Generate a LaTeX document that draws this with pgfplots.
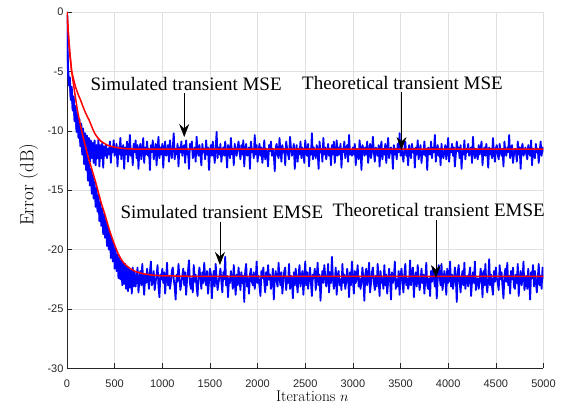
\documentclass[border=0pt]{standalone}
\usepackage{fontspec}
\usepackage{pgfplots}
\pgfplotsset{compat=1.18}
\usetikzlibrary{arrows.meta}
\newfontfamily\annfont{Liberation Serif}
\newfontfamily\tickfont{Liberation Sans}
\definecolor{gridc}{gray}{0.88}
\definecolor{axc}{gray}{0.15}
\begin{document}
\begin{tikzpicture}
\begin{axis}[
  scale only axis, width=476.5pt, height=356.5pt,
  xmin=0, xmax=5000, ymin=-30, ymax=0,
  xtick={0,500,...,5000}, ytick={-30,-25,...,0},
  axis x line*=bottom, axis y line*=left,
  axis line style={axc, line width=0.6pt},
  tick align=inside, major tick length=5pt, tick style={axc, line width=0.6pt},
  grid=major, major grid style={gridc, line width=0.6pt},
  scaled ticks=false,
  /pgf/number format/1000 sep={},
  /pgf/number format/assume math mode=true,
  ticklabel style={font=\tickfont\fontsize{11}{12}\selectfont, text=axc},
  xticklabel style={anchor=base, yshift=-18.8pt},
  xlabel={Iterations $n$}, ylabel={Error (dB)},
  xlabel style={font=\fontsize{15.5}{18}\selectfont, at={(axis description cs:0.515,-0.0916)}, anchor=base},
  ylabel style={font=\fontsize{19}{22}\selectfont, at={(axis description cs:-0.0804,0.515)}, anchor=center},
]
\coordinate (sw) at (rel axis cs:0,0);
% simulated MSE
\addplot[blue, line width=1.8pt, line join=round] coordinates {
(1,-0.2)(5,-3.1)(10,-5.0)(20,-6.2)(30,-5.9)(40,-7.4)(50,-6.6)(60,-8.3)(70,-7.3)(80,-9.1)(90,-7.9)(100,-9.9)(110,-8.6)(120,-10.2)(130,-9.0)(140,-11.0)(150,-9.4)(160,-11.4)(170,-9.8)(180,-11.7)(190,-10.2)(200,-12.1)(210,-10.4)(220,-12.0)(230,-10.6)(240,-12.6)(250,-10.8)(260,-12.3)(270,-11.0)(280,-12.7)(290,-10.8)(300,-12.9)(310,-11.2)(320,-12.3)(330,-10.7)(340,-13.0)(350,-11.2)(360,-12.3)(370,-11.0)(380,-13.1)(390,-11.3)(400,-12.1)
(410,-11.2)(420,-12.3)(430,-11.5)(440,-12.0)(450,-10.9)(460,-12.7)(470,-11.4)(480,-11.8)(490,-10.8)(500,-12.1)
(510,-11.7)(520,-11.1)(530,-13.0)(540,-11.4)(550,-12.0)(560,-10.6)(570,-12.4)(580,-11.5)(590,-11.2)(600,-13.2)
(610,-11.4)(620,-12.0)(630,-10.9)(640,-12.6)(650,-11.7)(660,-10.35)(670,-12.1)(680,-11.5)(690,-12.9)(700,-11.1)
(710,-11.8)(720,-10.8)(730,-12.3)(740,-11.2)(750,-13.2)(760,-11.5)(770,-11.1)(780,-12.4)(790,-11.7)(800,-10.6)
(810,-12.7)(820,-11.4)(830,-12.0)(840,-10.9)(850,-12.1)(860,-11.5)(870,-13.3)(880,-11.2)(890,-11.8)(900,-10.8)
(910,-12.4)(920,-11.7)(930,-11.1)(940,-12.9)(950,-11.5)(960,-10.5)(970,-12.3)(980,-11.4)(990,-12.0)(1000,-11.1)
(1010,-13.1)(1020,-11.5)(1030,-10.9)(1040,-12.1)(1050,-11.8)(1060,-11.2)(1070,-12.6)(1080,-10.8)(1090,-11.7)(1100,-12.3)
(1110,-11.4)(1120,-10.2)(1130,-12.4)(1140,-11.5)(1150,-12.0)(1160,-11.1)(1170,-13.0)(1180,-11.4)(1190,-11.8)(1200,-10.9)
(1210,-12.1)(1220,-11.5)(1230,-11.2)(1240,-12.7)(1250,-10.8)(1260,-12.0)(1270,-11.7)(1280,-13.2)(1290,-11.1)(1300,-11.5)
(1310,-10.9)(1320,-12.3)(1330,-11.8)(1340,-11.4)(1350,-12.6)(1360,-10.5)(1370,-11.7)(1380,-12.1)(1390,-11.2)(1400,-12.0)
(1410,-12.9)(1420,-11.1)(1430,-11.8)(1440,-11.5)(1450,-12.4)(1460,-10.8)(1470,-12.0)(1480,-11.4)(1490,-13.3)(1500,-11.7)
(1510,-11.2)(1520,-12.1)(1530,-10.9)(1540,-11.8)(1550,-12.7)(1560,-11.5)(1570,-10.1)(1580,-12.3)(1590,-11.4)(1600,-12.0)
(1610,-11.1)(1620,-12.6)(1630,-11.7)(1640,-11.4)(1650,-12.1)(1660,-10.9)(1670,-11.8)(1680,-13.1)(1690,-11.2)(1700,-11.5)
(1710,-12.3)(1720,-10.6)(1730,-12.0)(1740,-11.5)(1750,-12.9)(1760,-11.1)(1770,-11.7)(1780,-12.1)(1790,-11.4)(1800,-10.9)
(1810,-11.8)(1820,-12.4)(1830,-11.2)(1840,-12.0)(1850,-10.8)(1860,-13.0)(1870,-11.5)(1880,-11.1)(1890,-12.1)(1900,-11.7)
(1910,-11.4)(1920,-13.2)(1930,-10.9)(1940,-11.8)(1950,-11.5)(1960,-12.3)(1970,-10.35)(1980,-12.0)(1990,-11.2)(2000,-12.6)
(2010,-11.7)(2020,-11.1)(2030,-12.1)(2040,-11.4)(2050,-12.7)(2060,-11.8)(2070,-10.8)(2080,-12.4)(2090,-11.5)(2100,-12.0)
(2110,-13.0)(2120,-11.2)(2130,-11.7)(2140,-10.9)(2150,-12.1)(2160,-11.5)(2170,-12.0)(2180,-13.4)(2190,-11.4)(2200,-11.1)
(2210,-12.0)(2220,-12.3)(2230,-10.6)(2240,-11.7)(2250,-12.6)(2260,-11.2)(2270,-11.8)(2280,-11.5)(2290,-12.9)(2300,-10.9)
(2310,-11.5)(2320,-12.0)(2330,-12.4)(2340,-10.5)(2350,-11.4)(2360,-12.1)(2370,-11.7)(2380,-11.1)(2390,-13.2)(2400,-11.8)
(2410,-11.2)(2420,-12.6)(2430,-11.5)(2440,-12.0)(2450,-10.9)(2460,-12.3)(2470,-11.4)(2480,-11.8)(2490,-12.7)(2500,-10.8)
(2510,-11.7)(2520,-12.1)(2530,-11.1)(2540,-13.0)(2550,-11.5)(2560,-12.0)(2570,-10.2)(2580,-12.4)(2590,-11.4)(2600,-11.8)
(2610,-12.3)(2620,-11.2)(2630,-11.7)(2640,-13.2)(2650,-10.9)(2660,-11.8)(2670,-11.5)(2680,-12.6)(2690,-10.6)(2700,-12.0)
(2710,-11.4)(2720,-12.4)(2730,-11.8)(2740,-11.1)(2750,-12.1)(2760,-11.5)(2770,-12.9)(2780,-11.2)(2790,-12.0)(2800,-10.9)
(2810,-12.7)(2820,-11.7)(2830,-10.8)(2840,-12.1)(2850,-11.4)(2860,-12.0)(2870,-11.1)(2880,-13.1)(2890,-11.5)(2900,-11.8)
(2910,-10.9)(2920,-12.3)(2930,-11.5)(2940,-11.2)(2950,-12.6)(2960,-10.35)(2970,-12.0)(2980,-11.7)(2990,-12.1)(3000,-11.4)
(3010,-12.0)(3020,-11.1)(3030,-12.9)(3040,-11.5)(3050,-11.8)(3060,-12.4)(3070,-10.8)(3080,-11.7)(3090,-13.3)(3100,-11.2)
(3110,-11.5)(3120,-12.1)(3130,-11.4)(3140,-12.0)(3150,-10.9)(3160,-12.7)(3170,-11.8)(3180,-11.1)(3190,-12.3)(3200,-11.7)
(3210,-10.5)(3220,-11.8)(3230,-12.6)(3240,-11.4)(3250,-11.7)(3260,-12.1)(3270,-11.2)(3280,-13.0)(3290,-11.5)(3300,-10.9)
(3310,-12.4)(3320,-11.5)(3330,-12.0)(3340,-11.1)(3350,-12.7)(3360,-11.7)(3370,-10.6)(3380,-12.3)(3390,-11.8)(3400,-11.4)
(3410,-11.7)(3420,-13.2)(3430,-11.2)(3440,-12.0)(3450,-11.5)(3460,-12.4)(3470,-11.1)(3480,-11.8)(3490,-10.2)(3500,-12.1)
(3510,-11.4)(3520,-12.0)(3530,-12.6)(3540,-11.5)(3550,-10.9)(3560,-12.1)(3570,-11.7)(3580,-12.9)(3590,-11.2)(3600,-11.8)
(3610,-12.3)(3620,-11.1)(3630,-11.8)(3640,-11.5)(3650,-13.1)(3660,-11.4)(3670,-12.0)(3680,-10.8)(3690,-12.4)(3700,-11.7)
(3710,-11.2)(3720,-12.7)(3730,-11.7)(3740,-12.0)(3750,-10.9)(3760,-12.1)(3770,-11.5)(3780,-13.3)(3790,-11.4)(3800,-11.8)
(3810,-12.0)(3820,-10.9)(3830,-12.3)(3840,-11.4)(3850,-11.8)(3860,-10.35)(3870,-12.6)(3880,-11.7)(3890,-11.2)(3900,-12.1)
(3910,-11.5)(3920,-12.9)(3930,-11.1)(3940,-12.0)(3950,-12.3)(3960,-11.7)(3970,-11.2)(3980,-12.4)(3990,-11.8)(4000,-10.6)
(4010,-12.6)(4020,-11.5)(4030,-11.8)(4040,-11.1)(4050,-12.1)(4060,-11.4)(4070,-13.0)(4080,-12.0)(4090,-10.9)(4100,-11.7)
(4110,-11.4)(4120,-12.3)(4130,-11.2)(4140,-13.2)(4150,-11.7)(4160,-12.0)(4170,-10.8)(4180,-12.4)(4190,-11.5)(4200,-11.8)
(4210,-11.1)(4220,-12.1)(4230,-11.7)(4240,-11.4)(4250,-12.7)(4260,-10.5)(4270,-11.8)(4280,-12.3)(4290,-11.5)(4300,-12.0)
(4310,-12.4)(4320,-11.2)(4330,-12.0)(4340,-11.5)(4350,-10.9)(4360,-12.9)(4370,-11.7)(4380,-11.4)(4390,-12.1)(4400,-11.1)
(4410,-11.8)(4420,-13.1)(4430,-11.4)(4440,-12.0)(4450,-11.5)(4460,-12.3)(4470,-10.6)(4480,-11.8)(4490,-12.6)(4500,-11.5)
(4510,-11.2)(4520,-12.0)(4530,-12.4)(4540,-11.1)(4550,-11.7)(4560,-12.1)(4570,-11.5)(4580,-13.0)(4590,-10.9)(4600,-11.8)
(4610,-12.1)(4620,-11.4)(4630,-11.8)(4640,-10.35)(4650,-12.3)(4660,-11.7)(4670,-11.2)(4680,-12.7)(4690,-12.0)(4700,-11.5)
(4710,-11.7)(4720,-12.6)(4730,-10.9)(4740,-12.0)(4750,-11.4)(4760,-13.2)(4770,-11.5)(4780,-11.1)(4790,-12.1)(4800,-11.8)
(4810,-11.4)(4820,-12.0)(4830,-12.4)(4840,-11.2)(4850,-11.7)(4860,-12.1)(4870,-10.8)(4880,-12.9)(4890,-11.5)(4900,-12.0)
(4910,-12.3)(4920,-11.1)(4930,-11.8)(4940,-11.5)(4950,-12.7)(4960,-11.7)(4970,-10.9)(4980,-12.1)(4990,-11.4)(5000,-11.8)
};
% simulated EMSE
\addplot[blue, line width=1.8pt, line join=round] coordinates {
(1,-0.2)(5,-2.9)(10,-4.4)(20,-5.9)(30,-5.5)(40,-7.3)(50,-6.3)(60,-8.2)(70,-7.1)(80,-9.2)(90,-8.1)(100,-10.1)(110,-8.8)(120,-10.6)(130,-9.3)(140,-11.3)(150,-10.1)(160,-12.0)(170,-10.6)(180,-12.8)(190,-11.5)(200,-13.3)(210,-12.1)(220,-14.2)(230,-12.6)(240,-14.6)(250,-13.2)(260,-15.3)(270,-13.7)(280,-15.7)(290,-14.3)(300,-16.4)(310,-14.8)(320,-16.8)(330,-15.4)(340,-17.6)(350,-16.0)(360,-18.0)(370,-16.5)(380,-18.7)(390,-17.0)(400,-19.0)(410,-17.5)(420,-19.7)(430,-18.0)(440,-20.0)(450,-18.6)(460,-20.7)(470,-19.0)(480,-21.0)(490,-19.5)(500,-21.6)(510,-19.9)(520,-21.8)(530,-20.4)(540,-22.4)(550,-20.6)(560,-22.5)(570,-20.9)(580,-23.0)(590,-21.1)(600,-22.9)(610,-21.2)(620,-23.3)(630,-21.4)(640,-23.5)(650,-21.5)(660,-23.2)(670,-21.7)(680,-23.7)(690,-21.5)(700,-23.1)
(710,-21.9)(720,-23.1)(730,-22.4)(740,-21.5)(750,-23.6)(760,-22.5)(770,-21.8)(780,-23.0)(790,-21.2)(800,-22.7)
(810,-23.8)(820,-22.1)(830,-22.8)(840,-21.6)(850,-22.4)(860,-23.3)(870,-21.9)(880,-21.0)(890,-23.0)(900,-22.5)
(910,-21.8)(920,-23.4)(930,-22.7)(940,-22.2)(950,-21.3)(960,-23.1)(970,-24.0)(980,-22.1)(990,-22.5)(1000,-21.6)
(1010,-22.8)(1020,-21.9)(1030,-23.7)(1040,-22.4)(1050,-21.1)(1060,-23.0)(1070,-22.2)(1080,-23.3)(1090,-22.7)(1100,-21.8)
(1110,-21.5)(1120,-22.5)(1130,-23.1)(1140,-24.2)(1150,-22.1)(1160,-22.7)(1170,-21.2)(1180,-22.4)(1190,-23.4)(1200,-22.8)
(1210,-22.2)(1220,-21.6)(1230,-23.0)(1240,-21.9)(1250,-23.8)(1260,-22.5)(1270,-21.8)(1280,-20.9)(1290,-22.8)(1300,-23.3)
(1310,-22.4)(1320,-23.6)(1330,-21.3)(1340,-22.7)(1350,-22.1)(1360,-23.1)(1370,-23.9)(1380,-22.2)(1390,-21.5)(1400,-22.5)
(1410,-23.3)(1420,-21.9)(1430,-22.8)(1440,-21.1)(1450,-22.4)(1460,-23.0)(1470,-21.8)(1480,-23.7)(1490,-22.7)(1500,-21.6)
(1510,-22.1)(1520,-24.1)(1530,-22.5)(1540,-21.8)(1550,-23.1)(1560,-21.2)(1570,-22.4)(1580,-23.4)(1590,-22.8)(1600,-22.2)
(1610,-21.6)(1620,-22.7)(1630,-23.6)(1640,-21.9)(1650,-22.5)(1660,-20.6)(1670,-23.0)(1680,-22.2)(1690,-24.0)(1700,-22.4)
(1710,-22.8)(1720,-21.8)(1730,-22.4)(1740,-23.3)(1750,-21.3)(1760,-22.7)(1770,-23.8)(1780,-22.1)(1790,-23.0)(1800,-21.5)
(1810,-22.5)(1820,-23.4)(1830,-21.9)(1840,-22.8)(1850,-22.2)(1860,-24.4)(1870,-21.8)(1880,-21.2)(1890,-23.1)(1900,-22.4)
(1910,-23.7)(1920,-22.1)(1930,-21.6)(1940,-22.7)(1950,-23.0)(1960,-21.9)(1970,-23.3)(1980,-22.5)(1990,-21.0)(2000,-22.8)
(2010,-22.2)(2020,-23.1)(2030,-23.9)(2040,-21.8)(2050,-22.4)(2060,-21.5)(2070,-22.7)(2080,-23.6)(2090,-21.9)(2100,-23.0)
(2110,-21.3)(2120,-22.5)(2130,-22.1)(2140,-23.3)(2150,-22.8)(2160,-21.6)(2170,-24.2)(2180,-22.4)(2190,-21.8)(2200,-22.7)
(2210,-23.1)(2220,-21.1)(2230,-22.4)(2240,-23.0)(2250,-21.9)(2260,-23.7)(2270,-22.7)(2280,-21.8)(2290,-21.5)(2300,-23.4)
(2310,-22.4)(2320,-22.8)(2330,-21.2)(2340,-23.3)(2350,-22.2)(2360,-22.5)(2370,-24.1)(2380,-21.9)(2390,-23.0)(2400,-21.6)
(2410,-22.7)(2420,-23.6)(2430,-22.1)(2440,-21.3)(2450,-23.1)(2460,-22.4)(2470,-21.8)(2480,-23.8)(2490,-22.5)(2500,-21.0)
(2510,-23.0)(2520,-21.9)(2530,-23.3)(2540,-22.5)(2550,-21.5)(2560,-22.8)(2570,-23.9)(2580,-22.1)(2590,-22.4)(2600,-21.6)
(2610,-23.4)(2620,-22.4)(2630,-21.1)(2640,-23.0)(2650,-22.1)(2660,-24.3)(2670,-22.7)(2680,-21.8)(2690,-22.8)(2700,-21.3)
(2710,-22.2)(2720,-23.1)(2730,-22.5)(2740,-21.2)(2750,-23.6)(2760,-21.9)(2770,-22.8)(2780,-20.6)(2790,-22.4)(2800,-23.3)
(2810,-22.7)(2820,-21.5)(2830,-23.8)(2840,-22.2)(2850,-21.8)(2860,-23.0)(2870,-22.5)(2880,-23.4)(2890,-21.2)(2900,-22.8)
(2910,-22.1)(2920,-23.3)(2930,-22.7)(2940,-21.6)(2950,-22.4)(2960,-24.0)(2970,-21.9)(2980,-23.0)(2990,-21.0)(3000,-22.5)
(3010,-23.7)(3020,-21.8)(3030,-22.8)(3040,-22.2)(3050,-21.3)(3060,-23.1)(3070,-22.4)(3080,-23.3)(3090,-22.7)(3100,-21.5)
(3110,-22.5)(3120,-24.3)(3130,-22.1)(3140,-21.6)(3150,-23.0)(3160,-22.4)(3170,-21.1)(3180,-23.6)(3190,-22.8)(3200,-21.9)
(3210,-21.5)(3220,-22.7)(3230,-23.4)(3240,-22.2)(3250,-23.1)(3260,-21.2)(3270,-22.5)(3280,-23.9)(3290,-21.8)(3300,-22.8)
(3310,-22.4)(3320,-23.3)(3330,-21.3)(3340,-23.0)(3350,-22.1)(3360,-23.7)(3370,-22.7)(3380,-21.6)(3390,-22.5)(3400,-24.2)
(3410,-21.9)(3420,-22.8)(3430,-22.4)(3440,-21.0)(3450,-23.3)(3460,-22.5)(3470,-23.1)(3480,-21.8)(3490,-23.8)(3500,-22.2)
(3510,-21.6)(3520,-22.7)(3530,-23.6)(3540,-22.1)(3550,-21.2)(3560,-23.0)(3570,-22.4)(3580,-23.3)(3590,-22.8)(3600,-20.9)
(3610,-23.0)(3620,-22.2)(3630,-21.5)(3640,-24.0)(3650,-22.5)(3660,-21.9)(3670,-23.1)(3680,-21.3)(3690,-22.4)(3700,-23.4)
(3710,-22.7)(3720,-21.6)(3730,-22.8)(3740,-22.1)(3750,-23.7)(3760,-22.5)(3770,-21.1)(3780,-23.0)(3790,-23.3)(3800,-22.4)
(3810,-23.9)(3820,-21.8)(3830,-22.7)(3840,-21.5)(3850,-22.4)(3860,-23.1)(3870,-22.1)(3880,-24.1)(3890,-22.5)(3900,-21.3)
(3910,-22.2)(3920,-23.0)(3930,-21.2)(3940,-23.4)(3950,-22.7)(3960,-21.8)(3970,-22.4)(3980,-23.8)(3990,-21.6)(4000,-22.8)
(4010,-22.5)(4020,-21.0)(4030,-23.1)(4040,-22.1)(4050,-23.3)(4060,-22.7)(4070,-21.5)(4080,-22.4)(4090,-24.4)(4100,-21.9)
(4110,-21.3)(4120,-22.7)(4130,-23.6)(4140,-22.4)(4150,-21.8)(4160,-23.0)(4170,-21.1)(4180,-23.3)(4190,-22.5)(4200,-22.2)
(4210,-23.1)(4220,-22.1)(4230,-21.5)(4240,-23.9)(4250,-22.7)(4260,-21.9)(4270,-22.8)(4280,-21.0)(4290,-23.4)(4300,-22.5)
(4310,-22.4)(4320,-23.3)(4330,-22.7)(4340,-21.6)(4350,-22.2)(4360,-24.0)(4370,-21.8)(4380,-23.0)(4390,-21.2)(4400,-22.8)
(4410,-23.6)(4420,-22.5)(4430,-20.8)(4440,-23.0)(4450,-22.1)(4460,-23.1)(4470,-23.8)(4480,-21.8)(4490,-22.7)(4500,-21.5)
(4510,-22.4)(4520,-22.8)(4530,-23.4)(4540,-21.3)(4550,-22.5)(4560,-21.9)(4570,-23.1)(4580,-24.1)(4590,-22.2)(4600,-21.6)
(4610,-22.7)(4620,-21.1)(4630,-23.0)(4640,-22.2)(4650,-23.7)(4660,-21.8)(4670,-22.5)(4680,-21.5)(4690,-23.1)(4700,-23.3)
(4710,-22.1)(4720,-22.8)(4730,-21.2)(4740,-23.9)(4750,-22.4)(4760,-21.8)(4770,-23.0)(4780,-22.5)(4790,-21.0)(4800,-23.4)
(4810,-22.8)(4820,-22.2)(4830,-23.3)(4840,-21.6)(4850,-22.7)(4860,-24.2)(4870,-21.9)(4880,-22.4)(4890,-21.3)(4900,-23.1)
(4910,-21.8)(4920,-22.7)(4930,-23.6)(4940,-22.4)(4950,-21.2)(4960,-23.0)(4970,-22.2)(4980,-23.3)(4990,-21.5)(5000,-22.5)
};
% theoretical MSE
\addplot[red, line width=1.5pt] coordinates {
(0,0)(10,-1.3)(20,-2.5)(30,-3.5)(40,-4.3)(45,-4.7)(49,-5)(55,-5.2)(62,-5.45)(70,-5.7)(90,-6.3)(115,-6.9)(142,-7.4)(165,-7.9)(190,-8.4)(210,-8.75)(232,-9.1)(250,-9.45)(270,-9.85)(290,-10.2)(310,-10.45)(335,-10.7)(360,-10.9)(390,-11.05)(420,-11.2)(460,-11.3)(500,-11.38)(550,-11.45)(600,-11.5)(700,-11.53)(850,-11.55)(5000,-11.55)
};
% theoretical EMSE
\addplot[red, line width=1.5pt] coordinates {
(0,0)(10,-1.3)(20,-2.5)(30,-3.5)(40,-4.3)(45,-4.7)(49,-5)(65,-5.9)(85,-7.0)(108,-8.2)(140,-9.5)(177,-10.8)(200,-11.5)(225,-12.3)(250,-12.95)(274,-13.6)(300,-14.3)(320,-14.9)(340,-15.5)(360,-16.1)(380,-16.6)(400,-17.1)(425,-17.8)(447,-18.4)(470,-18.95)(490,-19.4)(512,-19.85)(534,-20.3)(557,-20.65)(580,-20.95)(610,-21.25)(655,-21.55)(720,-21.85)(793,-22.02)(900,-22.15)(1000,-22.2)(1300,-22.24)(5000,-22.25)
};
\tikzset{ann/.style={anchor=base, font=\annfont\fontsize{19}{22}\selectfont, inner sep=0pt},
         arr/.style={-{Stealth[length=13pt,width=10pt,inset=4.5pt]}, line width=0.6pt, black}}
\node[ann] at (axis cs:1250,-6.62) {Simulated transient MSE};
\draw[arr] (axis cs:1230,-6.82) -- (axis cs:1230,-10.52);
\node[ann] at (axis cs:3520,-6.56) {Theoretical transient MSE};
\draw[arr] (axis cs:3510,-6.73) -- (axis cs:3510,-11.61);
\node[ann] at (axis cs:1625,-17.34) {Simulated transient EMSE};
\draw[arr] (axis cs:1605,-17.65) -- (axis cs:1605,-21.29);
\node[ann] at (axis cs:3900,-17.23) {Theoretical transient EMSE};
\draw[arr] (axis cs:3870,-17.5) -- (axis cs:3870,-22.38);
\end{axis}
\pgfresetboundingbox
\useasboundingbox ([xshift=-67pt,yshift=-42.5pt]sw) rectangle ++(566pt,411pt);
\end{tikzpicture}
\end{document}
